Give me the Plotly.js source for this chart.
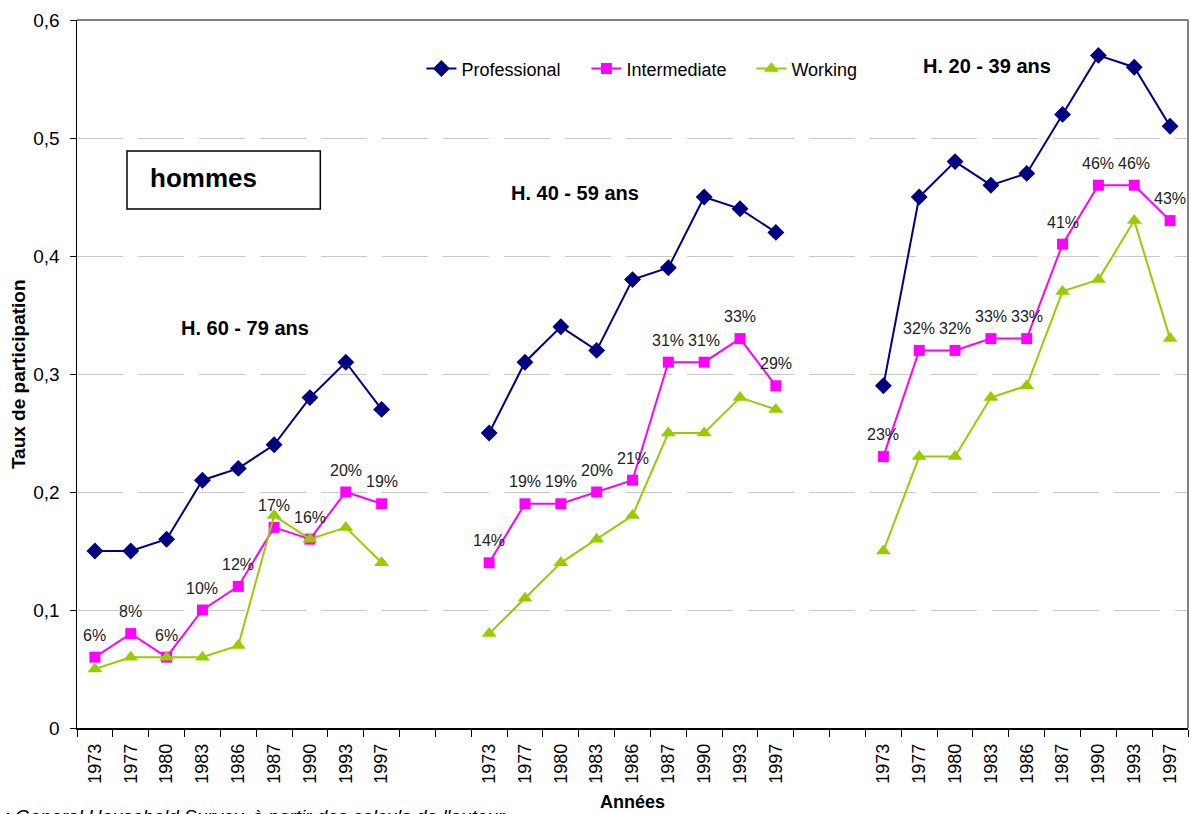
<!DOCTYPE html>
<html>
<head>
<meta charset="utf-8">
<script src="https://cdn.plot.ly/plotly-3.0.1.min.js"></script>
<style>
  html, body { margin: 0; padding: 0; background: #fff; }
  #chart { width: 1191px; height: 814px; }
</style>
</head>
<body>
<div id="chart"></div>
<script>
// Survey years, repeated for each age band
const years = ['1973', '1977', '1980', '1983', '1986', '1987', '1990', '1993', '1997'];

// Age bands, left to right
const groups = ['H. 60 - 79 ans', 'H. 40 - 59 ans', 'H. 20 - 39 ans'];

// Participation rates per class, per age band
const professional60 = [0.15, 0.15, 0.16, 0.21, 0.22, 0.24, 0.28, 0.31, 0.27];
const intermediate60 = [0.06, 0.08, 0.06, 0.10, 0.12, 0.17, 0.16, 0.20, 0.19];
const working60      = [0.05, 0.06, 0.06, 0.06, 0.07, 0.18, 0.16, 0.17, 0.14];

const professional40 = [0.25, 0.31, 0.34, 0.32, 0.38, 0.39, 0.45, 0.44, 0.42];
const intermediate40 = [0.14, 0.19, 0.19, 0.20, 0.21, 0.31, 0.31, 0.33, 0.29];
const working40      = [0.08, 0.11, 0.14, 0.16, 0.18, 0.25, 0.25, 0.28, 0.27];

const professional20 = [0.29, 0.45, 0.48, 0.46, 0.47, 0.52, 0.57, 0.56, 0.51];
const intermediate20 = [0.23, 0.32, 0.32, 0.33, 0.33, 0.41, 0.46, 0.46, 0.43];
const working20      = [0.15, 0.23, 0.23, 0.28, 0.29, 0.37, 0.38, 0.43, 0.33];

const yTickVals = [0, 0.1, 0.2, 0.3, 0.4, 0.5, 0.6];
const yTickText = ['0', '0,1', '0,2', '0,3', '0,4', '0,5', '0,6'];

// Layout of the category axis: each band of years is followed by two empty slots
const GAP = 2;
const nY = years.length;
const nSlots = groups.length * nY + (groups.length - 1) * GAP;
const bandStart = g => g * (nY + GAP);

// Build one continuous series with null gaps between the bands
function series(parts) {
  const x = [], y = [];
  parts.forEach((vals, g) => {
    vals.forEach((v, i) => { x.push(bandStart(g) + i); y.push(v); });
    if (g < parts.length - 1) { x.push(bandStart(g) + nY); y.push(null); }
  });
  return { x, y };
}

const FONT = 'Liberation Sans, Arial, sans-serif';
const pro = series([professional60, professional40, professional20]);
const inter = series([intermediate60, intermediate40, intermediate20]);
const work = series([working60, working40, working20]);

const traces = [
  {
    name: 'Professional', x: pro.x, y: pro.y, mode: 'lines+markers', connectgaps: false,
    line: { color: '#000080', width: 2 },
    marker: { symbol: 'diamond', size: 13, color: '#000080' }
  },
  {
    name: 'Intermediate', x: inter.x, y: inter.y, mode: 'lines+markers', connectgaps: false,
    line: { color: '#ff00ff', width: 2 },
    marker: { symbol: 'square', size: 11, color: '#ff00ff' }
  },
  {
    name: 'Working', x: work.x, y: work.y, mode: 'lines+markers', connectgaps: false,
    line: { color: '#99cc00', width: 2 },
    marker: { symbol: 'triangle-up', size: 13, color: '#99cc00' }
  }
];

// Tick labels: the year under each slot of each band
const xTickVals = [], xTickText = [];
groups.forEach((_, g) => years.forEach((yr, i) => {
  xTickVals.push(bandStart(g) + i);
  xTickText.push(yr);
}));

// Percentage labels over the intermediate series
const annotations = [];
inter.x.forEach((xv, k) => {
  const v = inter.y[k];
  if (v === null) return;
  annotations.push({
    x: xv, y: v, xref: 'x', yref: 'y', showarrow: false,
    text: Math.round(v * 100) + '%', yshift: 22,
    font: { family: FONT, size: 16, color: '#222' }
  });
});

// Age band headings
const headingPos = [
  { x: 4.2, y: 0.339 },
  { x: 13.4, y: 0.453 },
  { x: 24.9, y: 0.561 }
];
groups.forEach((txt, g) => {
  annotations.push({
    x: headingPos[g].x, y: headingPos[g].y, xref: 'x', yref: 'y', showarrow: false,
    xanchor: 'center', yanchor: 'middle',
    text: '<b>' + txt + '</b>', font: { family: FONT, size: 20, color: '#000' }
  });
});

// "hommes" label inside its box
annotations.push({
  x: 0.064, y: 0.777, xref: 'paper', yref: 'paper', xanchor: 'left', yanchor: 'middle',
  showarrow: false,
  text: '<b>hommes</b>', font: { family: FONT, size: 26, color: '#000' }
});

// Axis titles
annotations.push({
  x: -0.053, y: 0.5, xref: 'paper', yref: 'paper', xanchor: 'center', yanchor: 'middle',
  showarrow: false, textangle: -90,
  text: '<b>Taux de participation</b>', font: { family: FONT, size: 19, color: '#000' }
});
annotations.push({
  x: 0.5, y: -0.1045, xref: 'paper', yref: 'paper', xanchor: 'center', yanchor: 'middle',
  showarrow: false,
  text: '<b>Années</b>', font: { family: FONT, size: 18, color: '#000' }
});

// Source note, running off the left edge of the page
annotations.push({
  x: -0.126, y: -0.108, xref: 'paper', yref: 'paper', xanchor: 'left', yanchor: 'top',
  showarrow: false,
  text: '<i>Source : General Household Survey, à partir des calculs de l\'auteur</i>',
  font: { family: FONT, size: 19, color: '#000' }
});

const layout = {
  width: 1191, height: 814,
  margin: { l: 77, r: 3, t: 20, b: 86 },
  paper_bgcolor: '#fff', plot_bgcolor: '#fff',
  font: { family: FONT, size: 18, color: '#000' },
  showlegend: true,
  legend: {
    orientation: 'h', x: 0.31, y: 0.931, xanchor: 'left', yanchor: 'middle',
    font: { family: FONT, size: 18, color: '#000' }, bgcolor: 'rgba(0,0,0,0)',
    entrywidth: 120, entrywidthmode: 'pixels', tracegroupgap: 0
  },
  xaxis: {
    range: [-0.5, nSlots - 0.5], fixedrange: true, zeroline: false,
    showline: true, linecolor: '#000', linewidth: 1.5, showgrid: false,
    tickmode: 'array', tickvals: xTickVals, ticktext: xTickText, tickangle: -90,
    ticks: 'outside', ticklen: 7, tickcolor: 'rgba(0,0,0,0)',
    tickfont: { family: FONT, size: 18, color: '#000' },
    minor: { tickmode: 'linear', tick0: -0.5, dtick: 1, ticks: 'outside', ticklen: 7,
             tickcolor: '#000', tickwidth: 1, showgrid: false }
  },
  yaxis: {
    range: [0, 0.6], fixedrange: true, zeroline: false,
    showline: true, linecolor: '#000', linewidth: 1.5,
    tickmode: 'array', tickvals: yTickVals, ticktext: yTickText,
    ticks: 'outside', ticklen: 6, tickcolor: '#000', ticklabelstandoff: 6,
    tickfont: { family: FONT, size: 19, color: '#000' },
    showgrid: true, gridcolor: '#c8c8c8', gridwidth: 1, griddash: '46px,15px'
  },
  shapes: [
    // top and right edges of the plotting area
    { type: 'line', xref: 'paper', yref: 'paper', x0: 0, x1: 1, y0: 1, y1: 1,
      line: { color: '#808080', width: 2 } },
    { type: 'line', xref: 'paper', yref: 'paper', x0: 1, x1: 1, y0: 0, y1: 1,
      line: { color: '#808080', width: 2 } },
    // frame around the "hommes" label
    { type: 'rect', xref: 'paper', yref: 'paper', x0: 0.045, x1: 0.219, y0: 0.733, y1: 0.815,
      line: { color: '#000', width: 1.5 }, fillcolor: '#fff', layer: 'above' }
  ],
  annotations: annotations
};

Plotly.newPlot('chart', traces, layout, { displayModeBar: false, staticPlot: true });
</script>
</body>
</html>
